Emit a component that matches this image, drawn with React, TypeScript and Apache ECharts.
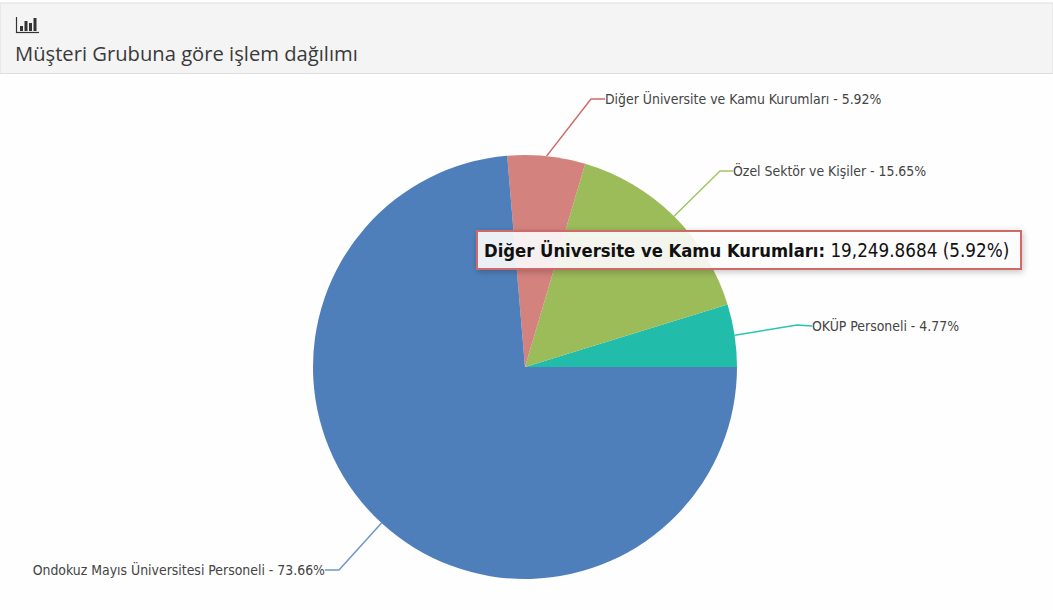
import React, { useEffect, useRef } from "react";
import * as echarts from "echarts";

const categories = ["OKÜP Personeli", "Özel Sektör ve Kişiler", "Diğer Üniversite ve Kamu Kurumları", "Ondokuz Mayıs Üniversitesi Personeli"];
const values = [15510.4, 50888.5, 19249.8684, 239520];
const percents = ["4.77", "15.65", "5.92", "73.66"];
const colors = ["#22bdaa", "#9cbb59", "#d4827e", "#4f7fba"];
const lineColors = ["#2ac4b0", "#a5c566", "#d06a68", "#6e96c8"];
const title = "Müşteri Grubuna göre işlem dağılımı";
const tipName = "Diğer Üniversite ve Kamu Kurumları:";
const tipValue = " 19,249.8684 (5.92%)";

const labelAnchors = [
  { x: 812, y: 326, elbow: [797, 325], align: "left" },
  { x: 733, y: 171, elbow: [720, 171], align: "left" },
  { x: 605, y: 99, elbow: [591, 99], align: "left" },
  { x: 325, y: 570, elbow: [339, 570], align: "right" },
];

export default function App() {
  const ref = useRef<HTMLDivElement>(null);
  useEffect(() => {
    document.body.style.margin = "0";
    const chart = echarts.init(ref.current!, null, { renderer: "svg" });
    const total = values.reduce((a, b) => a + b, 0);
    const cx = 525, cy = 367, r = 212;
    let acc = 0;
    const starts = values.map((v) => {
      const mid = ((acc + v / 2) / total) * 2 * Math.PI;
      acc += v;
      return [cx + r * Math.cos(mid), cy - r * Math.sin(mid)];
    });
    const condensed = "'DejaVu Sans Condensed', 'DejaVu Sans'";
    chart.setOption({
      animation: false,
      backgroundColor: "#fefefe",
      series: [
        {
          type: "pie",
          center: [cx, cy],
          radius: [0, r],
          startAngle: 0,
          clockwise: false,
          avoidLabelOverlap: false,
          emphasis: { disabled: true },
          itemStyle: { borderWidth: 0 },
          data: categories.map((name, i) => ({
            name,
            value: values[i],
            itemStyle: { color: colors[i] },
            label: { align: labelAnchors[i].align },
            labelLine: { lineStyle: { color: lineColors[i], width: 1.5 } },
          })),
          label: {
            show: true,
            formatter: (p: any) => `${p.name} - ${percents[p.dataIndex]}%`,
            fontFamily: condensed,
            fontSize: 13.9,
            color: "#444",
          },
          labelLine: { show: true, smooth: false },
          labelLayout: (p: any) => {
            const a = labelAnchors[p.dataIndex];
            return {
              x: a.x,
              y: a.y,
              align: a.align,
              verticalAlign: "middle",
              labelLinePoints: [starts[p.dataIndex], a.elbow, [a.x, a.y]],
            };
          },
        },
      ],
      graphic: [
        { type: "rect", z: 1, shape: { x: 0, y: 3, width: 1053, height: 70.5 }, style: { fill: "#f4f4f4", stroke: "#dedede", lineWidth: 1 } },
        { type: "line", z: 2, shape: { x1: 16, y1: 32.5, x2: 39, y2: 32.5 }, style: { stroke: "#333", lineWidth: 1.2 } },
        { type: "line", z: 2, shape: { x1: 16.5, y1: 17, x2: 16.5, y2: 33 }, style: { stroke: "#333", lineWidth: 1.2 } },
        { type: "rect", z: 2, shape: { x: 20, y: 26, width: 3, height: 5 }, style: { fill: "#333" } },
        { type: "rect", z: 2, shape: { x: 24.5, y: 21, width: 3, height: 10 }, style: { fill: "#333" } },
        { type: "rect", z: 2, shape: { x: 29, y: 23, width: 3, height: 8 }, style: { fill: "#333" } },
        { type: "rect", z: 2, shape: { x: 33.5, y: 18, width: 3, height: 13 }, style: { fill: "#333" } },
        { type: "text", z: 2, x: 15, y: 53, style: { text: title, fill: "#3a3a3a", font: "500 20.2px 'Open Sans'", verticalAlign: "middle" } },
        { type: "rect", z: 100, shape: { x: 477, y: 231, width: 544, height: 38 }, style: { fill: "rgba(255,255,255,0.88)", stroke: "#cf6a68", lineWidth: 2, shadowBlur: 6, shadowColor: "rgba(0,0,0,0.25)", shadowOffsetX: 1, shadowOffsetY: 2 } },
        {
          type: "text",
          z: 101,
          x: 484,
          y: 250,
          style: {
            text: `{b|${tipName}}{n|${tipValue}}`,
            verticalAlign: "middle",
            rich: {
              b: { font: `bold 18.3px ${condensed}`, fill: "#111" },
              n: { font: `18.7px ${condensed}`, fill: "#111" },
            },
          },
        },
      ],
    });
    return () => chart.dispose();
  }, []);
  return <div ref={ref} style={{ width: 1053, height: 610 }} />;
}
